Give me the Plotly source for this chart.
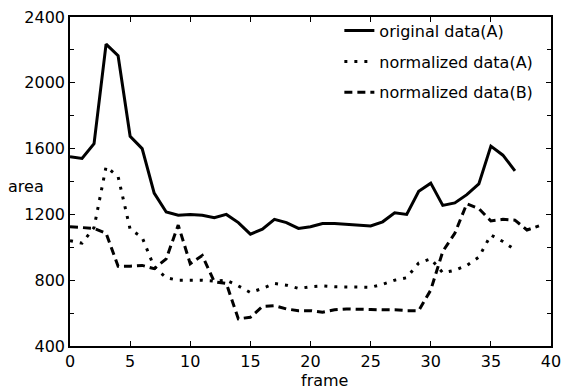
import plotly.graph_objects as go

frames_a = list(range(38))
frames_b = list(range(40))

original_a = [1550, 1540, 1630, 2235, 2165, 1675, 1600, 1330, 1215, 1195,
              1200, 1195, 1180, 1200, 1150, 1080, 1110, 1170, 1150, 1115,
              1125, 1145, 1145, 1140, 1135, 1130, 1155, 1210, 1200, 1340,
              1390, 1255, 1270, 1320, 1385, 1615, 1560, 1465]

normalized_a = [1040, 1025, 1120, 1490, 1430, 1110, 1060, 880, 815, 800,
                800, 800, 795, 800, 765, 725, 750, 780, 770, 750,
                760, 765, 760, 760, 760, 757, 775, 800, 815, 905,
                930, 845, 860, 890, 940, 1075, 1035, 985]

normalized_b = [1125, 1120, 1115, 1085, 885, 885, 890, 870, 930, 1135,
                900, 950, 790, 780, 565, 575, 640, 645, 625, 615,
                615, 605, 620, 625, 625, 622, 620, 620, 615, 615,
                740, 975, 1085, 1265, 1235, 1160, 1170, 1165, 1105, 1130]

names = ["original data(A)", "normalized data(A)", "normalized data(B)"]

FONT = "DejaVu Sans, Liberation Sans, Arial, sans-serif"

fig = go.Figure()
fig.add_trace(go.Scatter(x=frames_a, y=original_a, mode="lines", name=names[0],
                         legendgroup="g1",
                         line=dict(color="black", width=3)))
fig.add_trace(go.Scatter(x=frames_a, y=normalized_a, mode="lines", name=names[1],
                         legendgroup="g2",
                         line=dict(color="black", width=3, dash="3px,7px")))
fig.add_trace(go.Scatter(x=frames_b, y=normalized_b, mode="lines", name=names[2],
                         legendgroup="g3",
                         line=dict(color="black", width=3, dash="8px,5px")))

axis_common = dict(showgrid=False, zeroline=False, showline=True, linecolor="black",
                   linewidth=1.5, mirror="ticks", ticks="inside", ticklen=5,
                   tickcolor="black", tickwidth=1.2, ticklabeloverflow="allow",
                   tickfont=dict(family=FONT, size=16, color="black"))

fig.update_xaxes(range=[0, 40], dtick=5, tick0=0, **axis_common)
fig.update_yaxes(range=[400, 2400], dtick=400, tick0=400,
                 minor=dict(dtick=200, ticks="inside", ticklen=4, tickcolor="black"),
                 **axis_common)

fig.add_annotation(text="area", xref="paper", yref="paper", x=-0.092, y=0.485,
                   showarrow=False, xanchor="center", yanchor="middle",
                   font=dict(family=FONT, size=16, color="black"))
fig.add_annotation(text="frame", xref="paper", yref="paper", x=0.53, y=-0.0699,
                   showarrow=False, xanchor="center", yanchor="top",
                   font=dict(family=FONT, size=16, color="black"))

fig.update_layout(
    width=568, height=390,
    margin=dict(l=70, r=7, t=17, b=44),
    paper_bgcolor="white", plot_bgcolor="white",
    font=dict(family=FONT, size=16, color="black"),
    legend=dict(x=0.56, y=1.01, xanchor="left", yanchor="top",
                bgcolor="rgba(0,0,0,0)", borderwidth=0,
                tracegroupgap=7, font=dict(family=FONT, size=16, color="black")),
)

fig.write_html("out.html")
